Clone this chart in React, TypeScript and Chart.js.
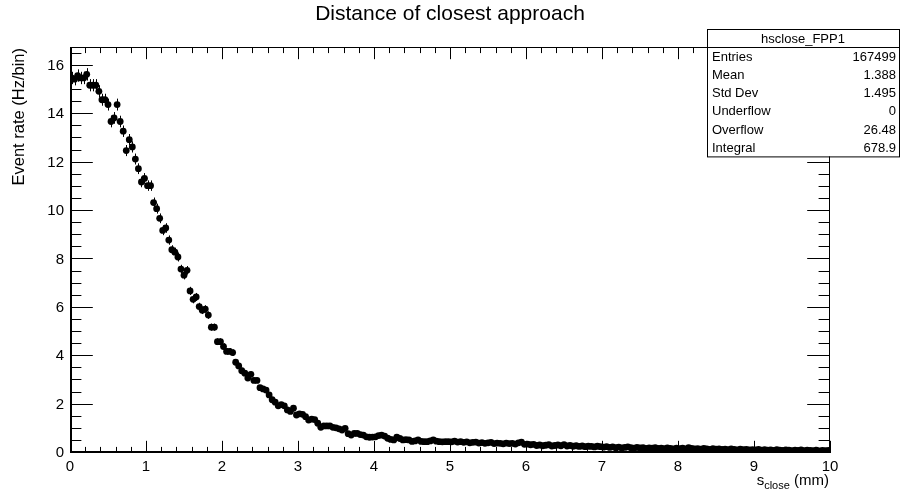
import React, { useEffect, useRef } from "react";
import { Chart, registerables } from "chart.js";

Chart.register(...registerables);

// ---- Data (histogram hsclose_FPP1: 250 bins, 0..10 mm) ----
const BIN_WIDTH = 0.04;
const X_MIN = 0;
const X_MAX = 10;
const Y_MAX = 16.78;

const rates0to50 = [
  15.5, 15.45, 15.6, 15.5, 15.5, 15.65, 15.2, 15.2, 15.2, 14.95,
  14.6, 14.6, 14.4, 13.7, 13.85, 14.4, 13.7, 13.3, 12.5, 12.95,
  12.65, 12.15, 11.75, 11.2, 11.35, 11.05, 11.05, 10.35, 10.1, 9.7,
  9.2, 9.3, 8.8, 8.4, 8.3, 8.1, 7.6, 7.35, 7.55, 6.7,
  6.35, 6.45, 6.05, 5.9, 5.95, 5.7, 5.2, 5.2, 4.6, 4.6, 4.4,
];
const rates51to124 = [
  4.2, 4.2, 4.15, 3.75, 3.6, 3.4, 3.3, 3.1, 3.25, 3.0,
  3.0, 2.7, 2.65, 2.6, 2.4, 2.2, 2.1, 1.95, 2.0, 1.95,
  1.78, 1.72, 1.85, 1.57, 1.62, 1.6, 1.5, 1.36, 1.4, 1.38,
  1.23, 1.06, 1.12, 1.12, 1.12, 1.06, 1.04, 1.0, 0.95, 1.02,
  0.8, 0.74, 0.81, 0.81, 0.76, 0.74, 0.67, 0.65, 0.66, 0.67,
  0.72, 0.74, 0.7, 0.61, 0.56, 0.54, 0.65, 0.6, 0.54, 0.55,
  0.54, 0.48, 0.5, 0.54, 0.48, 0.47, 0.47, 0.5, 0.54, 0.49,
  0.47, 0.46, 0.47, 0.47,
];
const rates125to149 = [
  0.46, 0.49, 0.45, 0.47, 0.44, 0.46, 0.42, 0.44, 0.45, 0.41,
  0.43, 0.4, 0.42, 0.44, 0.39, 0.41, 0.4, 0.38, 0.41, 0.39,
  0.4, 0.37, 0.42, 0.45, 0.36,
];
const rates150to174 = [
  0.37, 0.34, 0.36, 0.31, 0.33, 0.3, 0.32, 0.34, 0.29, 0.31,
  0.33, 0.3, 0.35, 0.29, 0.31, 0.28, 0.3, 0.27, 0.29, 0.26,
  0.28, 0.27, 0.25, 0.28, 0.26,
];
const rates175to199 = [
  0.24, 0.26, 0.23, 0.25, 0.22, 0.24, 0.21, 0.23, 0.25, 0.22,
  0.2, 0.23, 0.21, 0.22, 0.19, 0.21, 0.2, 0.22, 0.19, 0.2,
  0.18, 0.21, 0.19, 0.17, 0.2,
];
const rates200to224 = [
  0.18, 0.2, 0.17, 0.22, 0.19, 0.17, 0.18, 0.16, 0.19, 0.17,
  0.15, 0.18, 0.16, 0.17, 0.15, 0.16, 0.14, 0.17, 0.15, 0.13,
  0.16, 0.14, 0.15, 0.13, 0.14,
];
const rates225to249 = [
  0.13, 0.15, 0.12, 0.14, 0.12, 0.13, 0.11, 0.14, 0.12, 0.11,
  0.13, 0.12, 0.1, 0.12, 0.11, 0.13, 0.1, 0.12, 0.11, 0.1,
  0.12, 0.09, 0.11, 0.1, 0.11,
];

const rates = [
  ...rates0to50,
  ...rates51to124,
  ...rates125to149,
  ...rates150to174,
  ...rates175to199,
  ...rates200to224,
  ...rates225to249,
];

const xTickLabels = ["0", "1", "2", "3", "4", "5", "6", "7", "8", "9", "10"];
const yTickLabels = ["0", "2", "4", "6", "8", "10", "12", "14", "16"];
const X_MINOR_STEP = 0.2;
const Y_MINOR_STEP = 0.5;

const TITLE = "Distance of closest approach";
const Y_TITLE = "Event rate (Hz/bin)";
const X_TITLE_MAIN = "s";
const X_TITLE_SUB = "close";
const X_TITLE_UNIT = " (mm)";

const STATS_NAME = "hsclose_FPP1";
const statNames = ["Entries", "Mean", "Std Dev", "Underflow", "Overflow", "Integral"];
const statValues = ["167499", "1.388", "1.495", "0", "26.48", "678.9"];

const ENTRIES = 167499;
const OVERFLOW = 26.48;
const INTEGRAL = 678.9;
const EVENT_WEIGHT = (INTEGRAL + OVERFLOW) / ENTRIES;

const FONT = '"Liberation Sans", Arial, Helvetica, sans-serif';

const rootPlugin = {
  id: "rootStyle",
  beforeDatasetsDraw(chart: any) {
    const ctx = chart.ctx;
    const meta = chart.getDatasetMeta(0);
    const ys = chart.scales.y;
    ctx.save();
    ctx.strokeStyle = "#000";
    ctx.lineWidth = 1;
    ctx.beginPath();
    rates.forEach((v, i) => {
      const el = meta.data[i];
      if (!el) return;
      const err = Math.sqrt(v * EVENT_WEIGHT);
      const x = Math.round(el.x) + 0.5;
      ctx.moveTo(x, ys.getPixelForValue(v + err));
      ctx.lineTo(x, ys.getPixelForValue(Math.max(0, v - err)));
    });
    ctx.stroke();
    ctx.restore();
  },
  afterDraw(chart: any) {
    const ctx = chart.ctx;
    const { left, right, top, bottom } = chart.chartArea;
    const xs = chart.scales.x;
    const ys = chart.scales.y;
    const w = right - left;
    const h = bottom - top;
    ctx.save();
    ctx.strokeStyle = "#000";
    ctx.fillStyle = "#000";

    // frame
    ctx.lineWidth = 1;
    ctx.strokeRect(left + 0.5, top + 0.5, w - 1, h - 1);
    ctx.lineWidth = 2;
    ctx.beginPath();
    ctx.moveTo(left + 1, top);
    ctx.lineTo(left + 1, bottom);
    ctx.moveTo(left, bottom - 1);
    ctx.lineTo(right, bottom - 1);
    ctx.stroke();

    // ticks
    ctx.lineWidth = 1;
    ctx.beginPath();
    const yMajLen = 0.03 * w;
    const xMajLen = 0.03 * h;
    const nY = Math.floor(Y_MAX / Y_MINOR_STEP + 1e-6);
    for (let k = 0; k <= nY; k++) {
      const v = k * Y_MINOR_STEP;
      const py = Math.round(ys.getPixelForValue(v)) - 0.5;
      const isMaj = k % 4 === 0;
      const len = isMaj ? yMajLen : yMajLen / 2;
      ctx.moveTo(left, py);
      ctx.lineTo(left + len, py);
      ctx.moveTo(right, py);
      ctx.lineTo(right - len, py);
    }
    const nX = Math.round((X_MAX - X_MIN) / X_MINOR_STEP);
    for (let k = 0; k <= nX; k++) {
      const v = X_MIN + k * X_MINOR_STEP;
      const px = Math.round(xs.getPixelForValue(v)) + 0.5;
      const isMaj = k % 5 === 0;
      const len = isMaj ? xMajLen : xMajLen / 2;
      ctx.moveTo(px, bottom);
      ctx.lineTo(px, bottom - len);
      ctx.moveTo(px, top);
      ctx.lineTo(px, top + len);
    }
    ctx.stroke();

    // tick labels
    ctx.font = `15px ${FONT}`;
    ctx.textAlign = "right";
    ctx.textBaseline = "middle";
    yTickLabels.forEach((lab) => {
      const py = ys.getPixelForValue(parseFloat(lab));
      ctx.fillText(lab, left - 6, py);
    });
    ctx.textAlign = "center";
    ctx.textBaseline = "top";
    xTickLabels.forEach((lab) => {
      const px = xs.getPixelForValue(parseFloat(lab));
      ctx.fillText(lab, px, bottom + 6);
    });

    // title
    ctx.font = `21px ${FONT}`;
    ctx.textAlign = "center";
    ctx.textBaseline = "middle";
    ctx.fillText(TITLE, 450, 14);

    // y title
    ctx.save();
    ctx.translate(19, top + 1);
    ctx.rotate(-Math.PI / 2);
    ctx.font = `16.5px ${FONT}`;
    ctx.textAlign = "right";
    ctx.textBaseline = "middle";
    ctx.fillText(Y_TITLE, 0, 0);
    ctx.restore();

    // x title
    ctx.textBaseline = "alphabetic";
    ctx.textAlign = "left";
    ctx.font = `15px ${FONT}`;
    const unitW = ctx.measureText(X_TITLE_UNIT).width;
    ctx.font = `11px ${FONT}`;
    const subW = ctx.measureText(X_TITLE_SUB).width;
    ctx.font = `15px ${FONT}`;
    const mainW = ctx.measureText(X_TITLE_MAIN).width;
    const xEnd = right - 1;
    const base = 485;
    let cx = xEnd - unitW - subW - mainW;
    ctx.fillText(X_TITLE_MAIN, cx, base);
    cx += mainW;
    ctx.font = `11px ${FONT}`;
    ctx.fillText(X_TITLE_SUB, cx, base + 4);
    cx += subW;
    ctx.font = `15px ${FONT}`;
    ctx.fillText(X_TITLE_UNIT, cx, base);

    // stats box
    const bx = 707, by = 29, bw = 192, rowH = 18.2;
    const bh = rowH * (statNames.length + 1);
    ctx.fillStyle = "#fff";
    ctx.fillRect(bx, by, bw, bh);
    ctx.strokeStyle = "#000";
    ctx.lineWidth = 1;
    ctx.strokeRect(bx + 0.5, by + 0.5, bw, bh);
    ctx.beginPath();
    ctx.moveTo(bx, Math.round(by + rowH) + 0.5);
    ctx.lineTo(bx + bw, Math.round(by + rowH) + 0.5);
    ctx.stroke();
    ctx.fillStyle = "#000";
    ctx.font = `13px ${FONT}`;
    ctx.textBaseline = "middle";
    ctx.textAlign = "center";
    ctx.fillText(STATS_NAME, bx + bw / 2, by + rowH / 2 + 1);
    statNames.forEach((n, i) => {
      const cy = by + rowH * (i + 1.5) + 1;
      ctx.textAlign = "left";
      ctx.fillText(n, bx + 5, cy);
      ctx.textAlign = "right";
      ctx.fillText(statValues[i], bx + bw - 3, cy);
    });

    ctx.restore();
  },
};

export default function App() {
  const canvasRef = useRef<HTMLCanvasElement | null>(null);

  useEffect(() => {
    const canvas = canvasRef.current;
    if (!canvas) return;
    const points = rates.map((v, i) => ({ x: X_MIN + BIN_WIDTH * (i + 0.5), y: v }));
    const chart = new Chart(canvas, {
      type: "scatter",
      data: {
        datasets: [
          {
            data: points,
            backgroundColor: "#000",
            borderColor: "#000",
            borderWidth: 0,
            pointRadius: 3.4,
            pointHoverRadius: 3.4,
            pointStyle: "circle",
          },
        ],
      },
      options: {
        animation: false,
        responsive: false,
        devicePixelRatio: 1,
        layout: { padding: { left: 70, right: 72, top: 47, bottom: 40 } },
        plugins: {
          legend: { display: false },
          tooltip: { enabled: false },
          title: { display: false },
        },
        scales: {
          x: { type: "linear", min: X_MIN, max: X_MAX, display: false },
          y: { type: "linear", min: 0, max: Y_MAX, display: false },
        },
      },
      plugins: [rootPlugin],
    });
    return () => chart.destroy();
  }, []);

  return (
    <div style={{ position: "absolute", left: 0, top: 0, width: 902, height: 493, background: "#fff" }}>
      <canvas ref={canvasRef} width={902} height={493} style={{ display: "block", width: 902, height: 493 }} />
    </div>
  );
}
